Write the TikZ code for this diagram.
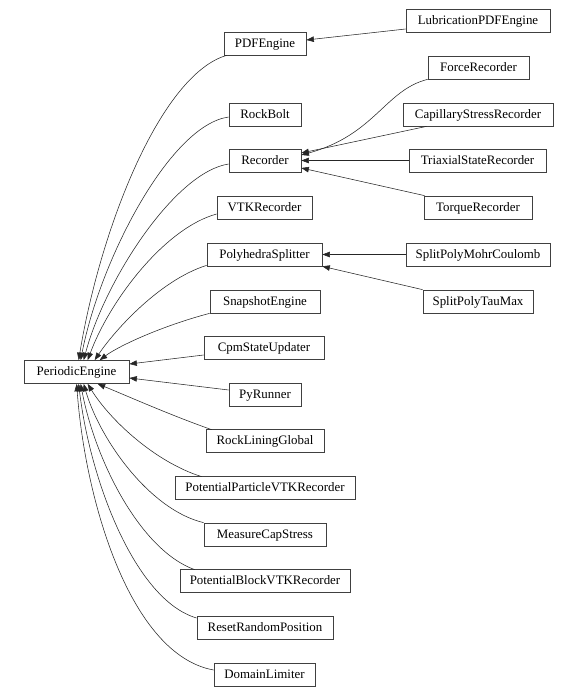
\documentclass[tikz,border=0pt]{standalone}
\usepackage{fontspec}
\setmainfont{Liberation Serif}
\usetikzlibrary{arrows.meta,calc}
\begin{document}
\begin{tikzpicture}[x=1pt,y=-1pt,
  box/.style={draw=black!75,line width=0.7pt,rectangle,inner sep=0pt,minimum height=23pt,text height=9pt,text depth=1.6pt,font=\fontsize{12.9}{14}\selectfont},
  edge/.style={draw=black!85,line width=0.55pt,-{Triangle[length=7.5pt,width=5.5pt]}}]
\useasboundingbox (0,0) rectangle (578,696);
% nodes
\node[box,minimum width=105pt] (pe) at (76.5,372) {PeriodicEngine};
\node[box,minimum width=82pt] (pdf) at (265,43.5) {PDFEngine};
\node[box,minimum width=72pt] (rb) at (265,114.5) {RockBolt};
\node[box,minimum width=72pt] (rec) at (265,160.5) {Recorder};
\node[box,minimum width=95pt] (vtk) at (264.5,207.5) {VTKRecorder};
\node[box,minimum width=115pt] (poly) at (264.5,254.5) {PolyhedraSplitter};
\node[box,minimum width=110pt] (snap) at (265,301.5) {SnapshotEngine};
\node[box,minimum width=120pt] (cpm) at (264,347.5) {CpmStateUpdater};
\node[box,minimum width=72pt] (py) at (265,394.5) {PyRunner};
\node[box,minimum width=118pt] (rlg) at (265,440.5) {RockLiningGlobal};
\node[box,minimum width=180pt] (ppv) at (265,487.5) {PotentialParticleVTKRecorder};
\node[box,minimum width=122pt] (mcs) at (265,534.5) {MeasureCapStress};
\node[box,minimum width=170pt] (pbv) at (265,580.5) {PotentialBlockVTKRecorder};
\node[box,minimum width=136pt] (rrp) at (265,627.5) {ResetRandomPosition};
\node[box,minimum width=101pt] (dl) at (264.5,674.5) {DomainLimiter};
\node[box,minimum width=144pt] (lub) at (478,20.5) {LubricationPDFEngine};
\node[box,minimum width=101pt] (force) at (478.5,67.5) {ForceRecorder};
\node[box,minimum width=150pt] (cap) at (478,114.5) {CapillaryStressRecorder};
\node[box,minimum width=137pt] (tri) at (477.5,160.5) {TriaxialStateRecorder};
\node[box,minimum width=108pt] (torque) at (478,207.5) {TorqueRecorder};
\node[box,minimum width=144pt] (spmc) at (478,254.5) {SplitPolyMohrCoulomb};
\node[box,minimum width=110pt] (sptm) at (478,301.5) {SplitPolyTauMax};
% edges into PeriodicEngine (top)
\draw[edge] ($(pdf.south west)+(3,0)$) .. controls (160,75) and (100,230) .. ($(pe.north west)+(55,0)$);
\draw[edge] ($(rb.west)+(0,2.5)$) .. controls (170,125) and (100,260) .. ($(pe.north west)+(57,0)$);
\draw[edge] ($(rec.west)+(0,3.5)$) .. controls (175,172) and (105,280) .. ($(pe.north west)+(60,0)$);
\draw[edge] ($(vtk.west)+(0,6.5)$) .. controls (165,228) and (110,300) .. ($(pe.north west)+(64,0)$);
\draw[edge] ($(poly.south west)+(0,-1)$) .. controls (160,280) and (115,330) .. ($(pe.north west)+(71,0)$);
\draw[edge] (snap.south west) .. controls (165,325) and (120,345) .. ($(pe.north west)+(76,0)$);
% side
\draw[edge] ($(cpm.west)+(0,7.5)$) -- ($(pe.east)+(0,-8)$);
\draw[edge] ($(py.west)+(0,-4.5)$) -- ($(pe.east)+(0,6)$);
% bottom
\draw[edge] ($(rlg.north west)+(6,1)$) .. controls (170,415) and (125,395) .. ($(pe.south west)+(74,0)$);
\draw[edge] ($(ppv.north west)+(27,1)$) .. controls (155,462) and (110,420) .. ($(pe.south west)+(64,0)$);
\draw[edge] (mcs.north west) .. controls (150,510) and (100,440) .. ($(pe.south west)+(60,0)$);
\draw[edge] ($(pbv.north west)+(15,1)$) .. controls (140,550) and (95,460) .. ($(pe.south west)+(57,0)$);
\draw[edge] ($(rrp.west)+(0,-9.5)$) .. controls (135,600) and (90,480) .. ($(pe.south west)+(55,0)$);
\draw[edge] ($(dl.west)+(0,-4.5)$) .. controls (130,655) and (85,500) .. ($(pe.south west)+(53,0)$);
% right column
\draw[edge] ($(lub.west)+(0,8.5)$) -- ($(pdf.east)+(0,-3.5)$);
\draw[edge] (force.south west) .. controls (385,90) and (375,135) .. ($(rec.east)+(0,-5.5)$);
\draw[edge] ($(cap.south west)+(24,0)$) -- ($(rec.east)+(0,-7.5)$);
\draw[edge] (tri.west) -- (rec.east);
\draw[edge] ($(torque.north west)+(1,0)$) -- ($(rec.east)+(0,7.5)$);
\draw[edge] (spmc.west) -- (poly.east);
\draw[edge] (sptm.north west) -- (poly.south east);
\end{tikzpicture}
\end{document}
